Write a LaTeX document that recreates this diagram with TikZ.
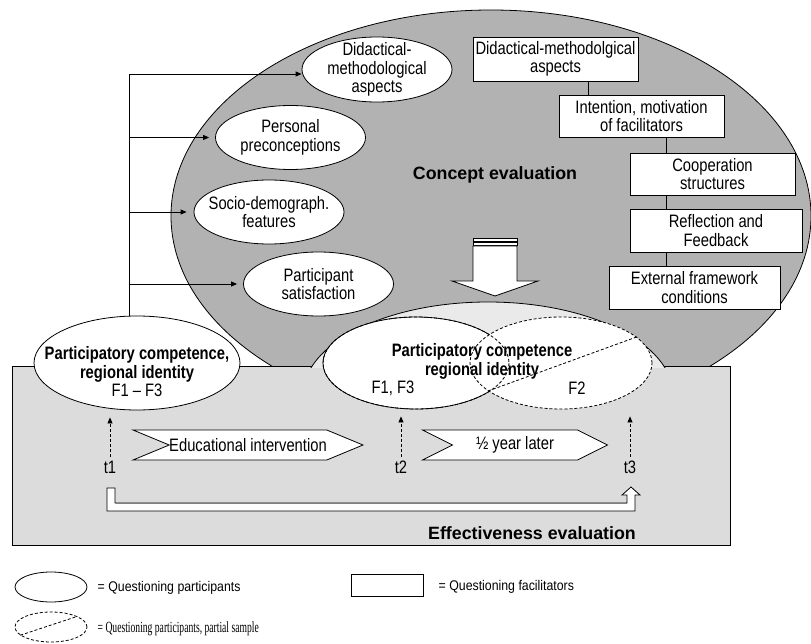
\documentclass[tikz,border=0pt]{standalone}
\usepackage{fontspec}
\setmainfont{Liberation Sans}[FakeStretch=0.82]
\newfontfamily\titlefont{Liberation Sans}
\newfontfamily\legsans{Liberation Sans}[FakeStretch=0.88]
\newfontfamily\legserif{Liberation Serif}[FakeStretch=0.62]
\usetikzlibrary{shapes.geometric,shapes.symbols,arrows.meta}

\definecolor{concgray}{RGB}{178,178,178}
\definecolor{effgray}{RGB}{220,220,220}
\definecolor{halogray}{RGB}{234,234,234}

\begin{document}
\begin{tikzpicture}[x=1pt, y=-1pt, line width=0.8pt,
    every node/.style={font=\fontsize{18}{18.5}\selectfont, align=center},
    bubble/.style={ellipse, draw, fill=white, inner sep=0pt, minimum width=150pt, minimum height=64pt},
    facbox/.style={rectangle, draw, fill=white, inner sep=0pt, minimum width=165pt, minimum height=42pt},
    chevron/.style={signal, signal to=east, signal from=west, draw, fill=white, minimum height=30pt, inner sep=0pt},
    arr/.style={-{Triangle[length=6pt,width=5pt]}},
    dasharr/.style={arr, dash pattern=on 3pt off 2pt},
    titletxt/.style={font=\titlefont\bfseries\fontsize{17.8}{21}\selectfont},
    legtxt/.style={anchor=west, font=\legsans\fontsize{14}{16}\selectfont}]
    \useasboundingbox (0,0) rectangle (811,644);

    % concept evaluation and effectiveness evaluation areas
    \node[ellipse, draw, fill=concgray, inner sep=0pt, minimum width=640pt, minimum height=412pt] (conc) at (491,216) {};
    \node[draw, fill=effgray, inner sep=0pt, anchor=north west, minimum width=718pt, minimum height=179pt] (eff) at (12,366) {};
    \begin{scope}
        \clip (0,0) rectangle (811,367);
        \draw[fill=halogray] (488,395) ellipse [x radius=185, y radius=93];
    \end{scope}

    % measurement points
    \node[ellipse, draw, fill=white, inner sep=0pt, minimum width=186pt, minimum height=92pt] (pc2) at (416,363) {};
    \node[ellipse, draw, fill=white, dash pattern=on 3pt off 2pt, inner sep=0pt, minimum width=182pt, minimum height=92pt] (pc3) at (561,363) {};
    \draw[dash pattern=on 3pt off 2pt] (pc2.center) ellipse [x radius=93, y radius=46];
    \draw[dash pattern=on 3pt off 2pt] (pc3.201) -- (pc3.19);
    \node[ellipse, draw, fill=white, inner sep=0pt, minimum width=206pt, minimum height=94pt] (pc1) at (137,363) {};

    \node (pc1txt) at (137,372) {\textbf{Participatory competence,}\\\textbf{regional identity}\\F1 – F3};
    \node (pc2txt) at (482,361.5) {\textbf{Participatory competence}\\\textbf{regional identity}};
    \node (f13) at (393,388) {F1, F3};
    \node (f2) at (577,388) {F2};

    \node[titletxt] (conctxt) at (495,175) {Concept evaluation};
    \node[titletxt] (efftxt) at (532,533) {Effectiveness evaluation};

    % participant questionnaire
    \coordinate (trunk) at (129,74);
    \draw (trunk) -- (trunk |- pc1.north);
    \node[bubble, minimum height=65pt, label={center:Didactical-\\methodological\\aspects}] (dm) at (377,69.5) {};
    \node[bubble, label={center:Personal\\preconceptions}] (pp) at (290.5,137.5) {};
    \node[bubble, label={center:Socio-demograph.\\features}] (sd) at (269,212) {};
    \node[bubble, label={center:Participant\\satisfaction}] (ps) at (318.5,284) {};
    \draw[arr] (trunk) -- (trunk -| dm.west);
    \draw[arr, shorten >=6pt] (trunk |- pp.west) -- (pp.west);
    \draw[arr, shorten >=7pt] (trunk |- sd.west) -- (sd.west);
    \draw[arr, shorten >=6pt] (trunk |- ps.west) -- (ps.west);

    % facilitator questionnaire
    \node[facbox, minimum height=44pt] (didbox) at (555.5,59) {Didactical-methodolgical\\aspects};
    \node[facbox] (intbox) at (641.5,116) {Intention, motivation\\of facilitators};
    \node[facbox] (coopbox) at (712.5,174) {Cooperation\\structures};
    \node[facbox, minimum width=172pt, minimum height=43pt] (reflbox) at (716,230.5) {Reflection and\\Feedback};
    \node[facbox, minimum width=171pt, minimum height=43pt] (extbox) at (694.5,287.5) {External framework\\conditions};
    \coordinate (lk1) at (588,0);
    \coordinate (lk2) at (666,0);
    \draw (didbox.south -| lk1) -- (intbox.north -| lk1);
    \draw (intbox.south -| lk2) -- (coopbox.north -| lk2);
    \draw (coopbox.south -| lk2) -- (reflbox.north -| lk2);
    \draw (reflbox.south -| lk2) -- (extbox.north -| lk2);

    % big arrow down
    \draw[fill=white] (473,238) rectangle (517,241);
    \draw[fill=white] (473,242.5) rectangle (517,245);
    \draw[fill=white] (473,246) -- (517,246) -- (517,281) -- (538,281) -- (495,296) -- (452,281) -- (473,281) -- cycle;

    % time line
    \node[chevron, signal pointer angle=45, minimum width=220pt] (eduint) at (248,445) {Educational intervention};
    \node[chevron, signal pointer angle=53, minimum width=185pt] (later) at (515,445) {½ year later};
    \node (t1) at (110,467) {t1};
    \node (t2) at (401,467) {t2};
    \node (t3) at (630,467) {t3};
    \draw[dasharr, shorten >=7pt] (t1.north) -- (t1.north |- pc1.south);
    \draw[dasharr, shorten >=7pt] (t2.north) -- (t2.north |- pc2.south);
    \draw[dasharr, shorten >=7pt] (t3.north) -- (t3.north |- pc3.south);
    \draw[fill=white] (107,488) -- (115,488) -- (115,503) -- (627,503) -- (627,495) -- (622,495) -- (631,487)
        -- (640,495) -- (635,495) -- (635,511) -- (107,511) -- cycle;
    \draw[gray, line width=1.4pt] (115.5,503.5) -- (626.5,503.5);

    % legend
    \node[ellipse, draw, inner sep=0pt, minimum width=72pt, minimum height=30pt] (legp) at (51,587) {};
    \node[legtxt] (legptxt) at (94,588) {= Questioning participants};
    \node[draw, inner sep=0pt, minimum width=72pt, minimum height=22pt] (legf) at (387,585) {};
    \node[legtxt] (legftxt) at (435,587) {= Questioning facilitators};
    \node[ellipse, draw, dash pattern=on 3pt off 2pt, inner sep=0pt, minimum width=72pt, minimum height=30pt] (legs) at (51,627) {};
    \draw[dash pattern=on 3pt off 2pt] (legs.195) -- (legs.22);
    \node[legtxt, font=\legserif\fontsize{15.5}{16}\selectfont] (legstxt) at (94,629) {= Questioning participants, partial sample};
\end{tikzpicture}
\end{document}
